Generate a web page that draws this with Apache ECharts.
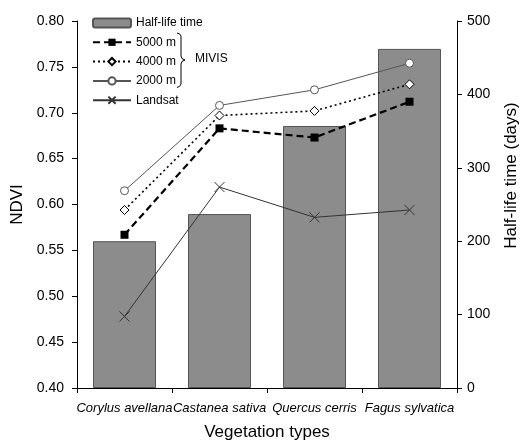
<!DOCTYPE html>
<html><head><meta charset="utf-8">
<script src="https://cdn.jsdelivr.net/npm/echarts@6/dist/echarts.min.js"></script>
<style>html,body{margin:0;padding:0;background:#fff}#c{width:522px;height:440px}</style>
</head><body><div id="c"></div>
<script>
const categories = ['Corylus avellana', 'Castanea sativa', 'Quercus cerris', 'Fagus sylvatica'];
const halfLife = [200, 237, 357, 462];
const ndvi5000 = [0.567, 0.683, 0.673, 0.712];
const ndvi4000 = [0.594, 0.697, 0.702, 0.731];
const ndvi2000 = [0.615, 0.708, 0.725, 0.754];
const landsat = [0.478, 0.619, 0.586, 0.594];
const seriesNames = ['Half-life time', '5000 m', '4000 m', '2000 m', 'Landsat'];

const FONT = "'Liberation Sans', Arial, Helvetica, sans-serif";
const chart = echarts.init(document.getElementById('c'), null, {renderer: 'canvas'});
const axisCommon = {
  axisLine: {show: true, lineStyle: {color: '#000', width: 1}},
  axisTick: {show: true, inside: false, length: 5, lineStyle: {color: '#000'}},
  splitLine: {show: false}
};
chart.setOption({
  animation: false,
  textStyle: {fontFamily: FONT},
  grid: {left: 77, right: 65, top: 21, bottom: 52, containLabel: false, outerBoundsMode: 'none'},
  legend: {
    orient: 'vertical', left: 92, top: 17, padding: 0, itemWidth: 38, itemHeight: 9, itemGap: 7.3,
    textStyle: {fontFamily: FONT, fontSize: 12, color: '#000'},
    data: seriesNames
  },
  xAxis: Object.assign({
    type: 'category', data: categories,
    axisLabel: {interval: 0, fontStyle: 'italic', fontSize: 13, color: '#000', margin: 14, fontFamily: FONT},
    name: 'Vegetation types', nameLocation: 'middle', nameGap: 36,
    nameTextStyle: {fontSize: 17, color: '#000', fontFamily: FONT}
  }, axisCommon),
  yAxis: [
    Object.assign({
      type: 'value', min: 0.40, max: 0.80, interval: 0.05, position: 'left',
      axisLabel: {fontSize: 14, color: '#000', margin: 13, fontFamily: FONT, formatter: v => v.toFixed(2)},
      name: 'NDVI', nameLocation: 'middle', nameGap: 48,
      nameTextStyle: {fontSize: 17, color: '#000', fontFamily: FONT}
    }, axisCommon),
    Object.assign({
      type: 'value', min: 0, max: 500, interval: 100, position: 'right',
      axisLabel: {fontSize: 14, color: '#000', margin: 10, fontFamily: FONT},
      name: 'Half-life time (days)', nameLocation: 'middle', nameGap: 46,
      nameTextStyle: {fontSize: 17, color: '#000', fontFamily: FONT, padding: [0, 0, 0, 58]}
    }, axisCommon)
  ],
  series: [
    {name: seriesNames[0], type: 'bar', yAxisIndex: 1, data: halfLife, barWidth: 63, z: 1,
     itemStyle: {color: '#8c8c8c', borderColor: '#555', borderWidth: 1}},
    {name: seriesNames[1], type: 'line', data: ndvi5000, symbol: 'rect', symbolSize: 8, z: 3,
     itemStyle: {color: '#000'}, lineStyle: {color: '#000', width: 2.2, type: [7, 4]}},
    {name: seriesNames[2], type: 'line', data: ndvi4000, symbol: 'diamond', symbolSize: 9, z: 3,
     itemStyle: {color: '#fff', borderColor: '#000', borderWidth: 1},
     lineStyle: {color: '#000', width: 1.6, type: [2, 3]}},
    {name: seriesNames[3], type: 'line', data: ndvi2000, symbol: 'circle', symbolSize: 8, z: 3,
     itemStyle: {color: '#fff', borderColor: '#555', borderWidth: 1},
     lineStyle: {color: '#555', width: 1}},
    {name: seriesNames[4], type: 'line', data: landsat, symbol: 'path://M0,0L10,10M10,0L0,10', symbolSize: 10, z: 3,
     itemStyle: {color: 'rgba(0,0,0,0)', borderColor: '#333', borderWidth: 1},
     lineStyle: {color: '#333', width: 1}}
  ],
  graphic: [
    {type: 'polyline', shape: {points: [[177,33],[179.5,33.8],[181,36],[181,56],[182,58.6],[185,60],[182,61.4],[181,64],[181,84],[179.5,86.4],[177,87.5]]},
     style: {fill: null, stroke: '#000', lineWidth: 1}},
    {type: 'text', left: 195, top: 53, style: {text: 'MIVIS', fontSize: 12, fontFamily: FONT, fill: '#000'}}
  ]
});
</script>
</body></html>
